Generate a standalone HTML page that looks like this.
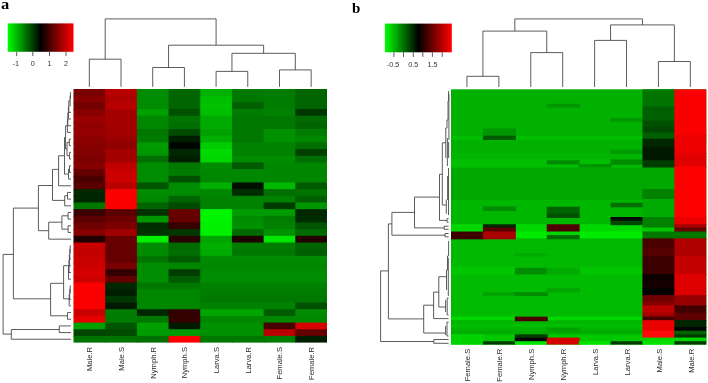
<!DOCTYPE html>
<html><head><meta charset="utf-8"><title>Heatmaps</title>
<style>
html,body{margin:0;padding:0;background:#fff;}
svg{display:block;}
.s{font-family:"Liberation Sans",sans-serif;font-size:7.2px;fill:#333;}
.l{font-family:"Liberation Sans",sans-serif;font-size:7.6px;fill:#2a2a2a;}
</style></head><body>
<svg width="708" height="383" viewBox="0 0 708 383">
<defs><linearGradient id="lg" x1="0" y1="0" x2="1" y2="0">
<stop offset="0" stop-color="rgb(0,255,0)"/><stop offset="0.5" stop-color="rgb(0,0,0)"/><stop offset="1" stop-color="rgb(255,0,0)"/>
</linearGradient></defs>
<rect width="708" height="383" fill="#fff"/>
<g id="heatA">
<rect x="73.50" y="89.00" width="32.69" height="7.67" fill="rgb(120,0,0)"/>
<rect x="105.19" y="89.00" width="32.69" height="7.67" fill="rgb(185,0,0)"/>
<rect x="136.88" y="89.00" width="32.69" height="7.67" fill="rgb(0,140,0)"/>
<rect x="168.56" y="89.00" width="32.69" height="7.67" fill="rgb(0,100,0)"/>
<rect x="200.25" y="89.00" width="32.69" height="7.67" fill="rgb(0,175,0)"/>
<rect x="231.94" y="89.00" width="32.69" height="7.67" fill="rgb(0,120,0)"/>
<rect x="263.62" y="89.00" width="32.69" height="7.67" fill="rgb(0,125,0)"/>
<rect x="295.31" y="89.00" width="31.69" height="7.67" fill="rgb(0,100,0)"/>
<rect x="73.50" y="95.67" width="32.69" height="7.67" fill="rgb(135,0,0)"/>
<rect x="105.19" y="95.67" width="32.69" height="7.67" fill="rgb(175,0,0)"/>
<rect x="136.88" y="95.67" width="32.69" height="7.67" fill="rgb(0,140,0)"/>
<rect x="168.56" y="95.67" width="32.69" height="7.67" fill="rgb(0,100,0)"/>
<rect x="200.25" y="95.67" width="32.69" height="7.67" fill="rgb(0,190,0)"/>
<rect x="231.94" y="95.67" width="32.69" height="7.67" fill="rgb(0,120,0)"/>
<rect x="263.62" y="95.67" width="32.69" height="7.67" fill="rgb(0,125,0)"/>
<rect x="295.31" y="95.67" width="31.69" height="7.67" fill="rgb(0,100,0)"/>
<rect x="73.50" y="102.35" width="32.69" height="7.67" fill="rgb(115,0,0)"/>
<rect x="105.19" y="102.35" width="32.69" height="7.67" fill="rgb(185,0,0)"/>
<rect x="136.88" y="102.35" width="32.69" height="7.67" fill="rgb(0,140,0)"/>
<rect x="168.56" y="102.35" width="32.69" height="7.67" fill="rgb(0,100,0)"/>
<rect x="200.25" y="102.35" width="32.69" height="7.67" fill="rgb(0,195,0)"/>
<rect x="231.94" y="102.35" width="32.69" height="7.67" fill="rgb(0,95,0)"/>
<rect x="263.62" y="102.35" width="32.69" height="7.67" fill="rgb(0,125,0)"/>
<rect x="295.31" y="102.35" width="31.69" height="7.67" fill="rgb(0,100,0)"/>
<rect x="73.50" y="109.02" width="32.69" height="7.67" fill="rgb(135,0,0)"/>
<rect x="105.19" y="109.02" width="32.69" height="7.67" fill="rgb(165,0,0)"/>
<rect x="136.88" y="109.02" width="32.69" height="7.67" fill="rgb(0,160,0)"/>
<rect x="168.56" y="109.02" width="32.69" height="7.67" fill="rgb(0,80,0)"/>
<rect x="200.25" y="109.02" width="32.69" height="7.67" fill="rgb(0,190,0)"/>
<rect x="231.94" y="109.02" width="32.69" height="7.67" fill="rgb(0,125,0)"/>
<rect x="263.62" y="109.02" width="32.69" height="7.67" fill="rgb(0,130,0)"/>
<rect x="295.31" y="109.02" width="31.69" height="7.67" fill="rgb(0,55,0)"/>
<rect x="73.50" y="115.69" width="32.69" height="7.67" fill="rgb(155,0,0)"/>
<rect x="105.19" y="115.69" width="32.69" height="7.67" fill="rgb(165,0,0)"/>
<rect x="136.88" y="115.69" width="32.69" height="7.67" fill="rgb(0,135,0)"/>
<rect x="168.56" y="115.69" width="32.69" height="7.67" fill="rgb(0,115,0)"/>
<rect x="200.25" y="115.69" width="32.69" height="7.67" fill="rgb(0,170,0)"/>
<rect x="231.94" y="115.69" width="32.69" height="7.67" fill="rgb(0,120,0)"/>
<rect x="263.62" y="115.69" width="32.69" height="7.67" fill="rgb(0,120,0)"/>
<rect x="295.31" y="115.69" width="31.69" height="7.67" fill="rgb(0,105,0)"/>
<rect x="73.50" y="122.37" width="32.69" height="7.67" fill="rgb(145,0,0)"/>
<rect x="105.19" y="122.37" width="32.69" height="7.67" fill="rgb(165,0,0)"/>
<rect x="136.88" y="122.37" width="32.69" height="7.67" fill="rgb(0,135,0)"/>
<rect x="168.56" y="122.37" width="32.69" height="7.67" fill="rgb(0,110,0)"/>
<rect x="200.25" y="122.37" width="32.69" height="7.67" fill="rgb(0,170,0)"/>
<rect x="231.94" y="122.37" width="32.69" height="7.67" fill="rgb(0,120,0)"/>
<rect x="263.62" y="122.37" width="32.69" height="7.67" fill="rgb(0,120,0)"/>
<rect x="295.31" y="122.37" width="31.69" height="7.67" fill="rgb(0,100,0)"/>
<rect x="73.50" y="129.04" width="32.69" height="7.67" fill="rgb(150,0,0)"/>
<rect x="105.19" y="129.04" width="32.69" height="7.67" fill="rgb(160,0,0)"/>
<rect x="136.88" y="129.04" width="32.69" height="7.67" fill="rgb(0,120,0)"/>
<rect x="168.56" y="129.04" width="32.69" height="7.67" fill="rgb(0,75,0)"/>
<rect x="200.25" y="129.04" width="32.69" height="7.67" fill="rgb(0,160,0)"/>
<rect x="231.94" y="129.04" width="32.69" height="7.67" fill="rgb(0,120,0)"/>
<rect x="263.62" y="129.04" width="32.69" height="7.67" fill="rgb(0,145,0)"/>
<rect x="295.31" y="129.04" width="31.69" height="7.67" fill="rgb(0,125,0)"/>
<rect x="73.50" y="135.72" width="32.69" height="7.67" fill="rgb(140,0,0)"/>
<rect x="105.19" y="135.72" width="32.69" height="7.67" fill="rgb(155,0,0)"/>
<rect x="136.88" y="135.72" width="32.69" height="7.67" fill="rgb(0,125,0)"/>
<rect x="168.56" y="135.72" width="32.69" height="7.67" fill="rgb(0,30,0)"/>
<rect x="200.25" y="135.72" width="32.69" height="7.67" fill="rgb(0,175,0)"/>
<rect x="231.94" y="135.72" width="32.69" height="7.67" fill="rgb(0,120,0)"/>
<rect x="263.62" y="135.72" width="32.69" height="7.67" fill="rgb(0,145,0)"/>
<rect x="295.31" y="135.72" width="31.69" height="7.67" fill="rgb(0,135,0)"/>
<rect x="73.50" y="142.39" width="32.69" height="7.67" fill="rgb(135,0,0)"/>
<rect x="105.19" y="142.39" width="32.69" height="7.67" fill="rgb(145,0,0)"/>
<rect x="136.88" y="142.39" width="32.69" height="7.67" fill="rgb(0,155,0)"/>
<rect x="168.56" y="142.39" width="32.69" height="7.67" fill="rgb(0,5,0)"/>
<rect x="200.25" y="142.39" width="32.69" height="7.67" fill="rgb(0,205,0)"/>
<rect x="231.94" y="142.39" width="32.69" height="7.67" fill="rgb(0,130,0)"/>
<rect x="263.62" y="142.39" width="32.69" height="7.67" fill="rgb(0,130,0)"/>
<rect x="295.31" y="142.39" width="31.69" height="7.67" fill="rgb(0,110,0)"/>
<rect x="73.50" y="149.06" width="32.69" height="7.67" fill="rgb(130,0,0)"/>
<rect x="105.19" y="149.06" width="32.69" height="7.67" fill="rgb(165,0,0)"/>
<rect x="136.88" y="149.06" width="32.69" height="7.67" fill="rgb(0,150,0)"/>
<rect x="168.56" y="149.06" width="32.69" height="7.67" fill="rgb(0,40,0)"/>
<rect x="200.25" y="149.06" width="32.69" height="7.67" fill="rgb(0,218,0)"/>
<rect x="231.94" y="149.06" width="32.69" height="7.67" fill="rgb(0,130,0)"/>
<rect x="263.62" y="149.06" width="32.69" height="7.67" fill="rgb(0,130,0)"/>
<rect x="295.31" y="149.06" width="31.69" height="7.67" fill="rgb(0,65,0)"/>
<rect x="73.50" y="155.74" width="32.69" height="7.67" fill="rgb(125,0,0)"/>
<rect x="105.19" y="155.74" width="32.69" height="7.67" fill="rgb(165,0,0)"/>
<rect x="136.88" y="155.74" width="32.69" height="7.67" fill="rgb(0,110,0)"/>
<rect x="168.56" y="155.74" width="32.69" height="7.67" fill="rgb(0,30,0)"/>
<rect x="200.25" y="155.74" width="32.69" height="7.67" fill="rgb(0,215,0)"/>
<rect x="231.94" y="155.74" width="32.69" height="7.67" fill="rgb(0,140,0)"/>
<rect x="263.62" y="155.74" width="32.69" height="7.67" fill="rgb(0,140,0)"/>
<rect x="295.31" y="155.74" width="31.69" height="7.67" fill="rgb(0,110,0)"/>
<rect x="73.50" y="162.41" width="32.69" height="7.67" fill="rgb(135,0,0)"/>
<rect x="105.19" y="162.41" width="32.69" height="7.67" fill="rgb(190,0,0)"/>
<rect x="136.88" y="162.41" width="32.69" height="7.67" fill="rgb(0,140,0)"/>
<rect x="168.56" y="162.41" width="32.69" height="7.67" fill="rgb(0,120,0)"/>
<rect x="200.25" y="162.41" width="32.69" height="7.67" fill="rgb(0,140,0)"/>
<rect x="231.94" y="162.41" width="32.69" height="7.67" fill="rgb(0,90,0)"/>
<rect x="263.62" y="162.41" width="32.69" height="7.67" fill="rgb(0,135,0)"/>
<rect x="295.31" y="162.41" width="31.69" height="7.67" fill="rgb(0,135,0)"/>
<rect x="73.50" y="169.08" width="32.69" height="7.67" fill="rgb(100,0,0)"/>
<rect x="105.19" y="169.08" width="32.69" height="7.67" fill="rgb(205,0,0)"/>
<rect x="136.88" y="169.08" width="32.69" height="7.67" fill="rgb(0,140,0)"/>
<rect x="168.56" y="169.08" width="32.69" height="7.67" fill="rgb(0,125,0)"/>
<rect x="200.25" y="169.08" width="32.69" height="7.67" fill="rgb(0,135,0)"/>
<rect x="231.94" y="169.08" width="32.69" height="7.67" fill="rgb(0,135,0)"/>
<rect x="263.62" y="169.08" width="32.69" height="7.67" fill="rgb(0,135,0)"/>
<rect x="295.31" y="169.08" width="31.69" height="7.67" fill="rgb(0,135,0)"/>
<rect x="73.50" y="175.76" width="32.69" height="7.67" fill="rgb(75,0,0)"/>
<rect x="105.19" y="175.76" width="32.69" height="7.67" fill="rgb(205,0,0)"/>
<rect x="136.88" y="175.76" width="32.69" height="7.67" fill="rgb(0,140,0)"/>
<rect x="168.56" y="175.76" width="32.69" height="7.67" fill="rgb(0,80,0)"/>
<rect x="200.25" y="175.76" width="32.69" height="7.67" fill="rgb(0,135,0)"/>
<rect x="231.94" y="175.76" width="32.69" height="7.67" fill="rgb(0,135,0)"/>
<rect x="263.62" y="175.76" width="32.69" height="7.67" fill="rgb(0,135,0)"/>
<rect x="295.31" y="175.76" width="31.69" height="7.67" fill="rgb(0,135,0)"/>
<rect x="73.50" y="182.43" width="32.69" height="7.67" fill="rgb(90,0,0)"/>
<rect x="105.19" y="182.43" width="32.69" height="7.67" fill="rgb(185,0,0)"/>
<rect x="136.88" y="182.43" width="32.69" height="7.67" fill="rgb(0,85,0)"/>
<rect x="168.56" y="182.43" width="32.69" height="7.67" fill="rgb(0,140,0)"/>
<rect x="200.25" y="182.43" width="32.69" height="7.67" fill="rgb(0,175,0)"/>
<rect x="231.94" y="182.43" width="32.69" height="7.67" fill="rgb(0,15,0)"/>
<rect x="263.62" y="182.43" width="32.69" height="7.67" fill="rgb(0,185,0)"/>
<rect x="295.31" y="182.43" width="31.69" height="7.67" fill="rgb(0,90,0)"/>
<rect x="73.50" y="189.11" width="32.69" height="7.67" fill="rgb(0,40,0)"/>
<rect x="105.19" y="189.11" width="32.69" height="7.67" fill="rgb(250,0,0)"/>
<rect x="136.88" y="189.11" width="32.69" height="7.67" fill="rgb(0,140,0)"/>
<rect x="168.56" y="189.11" width="32.69" height="7.67" fill="rgb(0,140,0)"/>
<rect x="200.25" y="189.11" width="32.69" height="7.67" fill="rgb(0,135,0)"/>
<rect x="231.94" y="189.11" width="32.69" height="7.67" fill="rgb(0,45,0)"/>
<rect x="263.62" y="189.11" width="32.69" height="7.67" fill="rgb(0,110,0)"/>
<rect x="295.31" y="189.11" width="31.69" height="7.67" fill="rgb(0,115,0)"/>
<rect x="73.50" y="195.78" width="32.69" height="7.67" fill="rgb(0,40,0)"/>
<rect x="105.19" y="195.78" width="32.69" height="7.67" fill="rgb(250,0,0)"/>
<rect x="136.88" y="195.78" width="32.69" height="7.67" fill="rgb(0,135,0)"/>
<rect x="168.56" y="195.78" width="32.69" height="7.67" fill="rgb(0,100,0)"/>
<rect x="200.25" y="195.78" width="32.69" height="7.67" fill="rgb(0,130,0)"/>
<rect x="231.94" y="195.78" width="32.69" height="7.67" fill="rgb(0,130,0)"/>
<rect x="263.62" y="195.78" width="32.69" height="7.67" fill="rgb(0,130,0)"/>
<rect x="295.31" y="195.78" width="31.69" height="7.67" fill="rgb(0,95,0)"/>
<rect x="73.50" y="202.45" width="32.69" height="7.67" fill="rgb(0,120,0)"/>
<rect x="105.19" y="202.45" width="32.69" height="7.67" fill="rgb(250,0,0)"/>
<rect x="136.88" y="202.45" width="32.69" height="7.67" fill="rgb(0,100,0)"/>
<rect x="168.56" y="202.45" width="32.69" height="7.67" fill="rgb(0,75,0)"/>
<rect x="200.25" y="202.45" width="32.69" height="7.67" fill="rgb(0,130,0)"/>
<rect x="231.94" y="202.45" width="32.69" height="7.67" fill="rgb(0,130,0)"/>
<rect x="263.62" y="202.45" width="32.69" height="7.67" fill="rgb(0,60,0)"/>
<rect x="295.31" y="202.45" width="31.69" height="7.67" fill="rgb(0,150,0)"/>
<rect x="73.50" y="209.13" width="32.69" height="7.67" fill="rgb(60,0,0)"/>
<rect x="105.19" y="209.13" width="32.69" height="7.67" fill="rgb(90,0,0)"/>
<rect x="136.88" y="209.13" width="32.69" height="7.67" fill="rgb(0,50,0)"/>
<rect x="168.56" y="209.13" width="32.69" height="7.67" fill="rgb(105,0,0)"/>
<rect x="200.25" y="209.13" width="32.69" height="7.67" fill="rgb(0,245,0)"/>
<rect x="231.94" y="209.13" width="32.69" height="7.67" fill="rgb(0,155,0)"/>
<rect x="263.62" y="209.13" width="32.69" height="7.67" fill="rgb(0,155,0)"/>
<rect x="295.31" y="209.13" width="31.69" height="7.67" fill="rgb(0,40,0)"/>
<rect x="73.50" y="215.80" width="32.69" height="7.67" fill="rgb(90,0,0)"/>
<rect x="105.19" y="215.80" width="32.69" height="7.67" fill="rgb(110,0,0)"/>
<rect x="136.88" y="215.80" width="32.69" height="7.67" fill="rgb(0,150,0)"/>
<rect x="168.56" y="215.80" width="32.69" height="7.67" fill="rgb(100,0,0)"/>
<rect x="200.25" y="215.80" width="32.69" height="7.67" fill="rgb(0,245,0)"/>
<rect x="231.94" y="215.80" width="32.69" height="7.67" fill="rgb(0,140,0)"/>
<rect x="263.62" y="215.80" width="32.69" height="7.67" fill="rgb(0,125,0)"/>
<rect x="295.31" y="215.80" width="31.69" height="7.67" fill="rgb(0,45,0)"/>
<rect x="73.50" y="222.47" width="32.69" height="7.67" fill="rgb(110,0,0)"/>
<rect x="105.19" y="222.47" width="32.69" height="7.67" fill="rgb(125,0,0)"/>
<rect x="136.88" y="222.47" width="32.69" height="7.67" fill="rgb(0,45,0)"/>
<rect x="168.56" y="222.47" width="32.69" height="7.67" fill="rgb(55,0,0)"/>
<rect x="200.25" y="222.47" width="32.69" height="7.67" fill="rgb(0,240,0)"/>
<rect x="231.94" y="222.47" width="32.69" height="7.67" fill="rgb(0,145,0)"/>
<rect x="263.62" y="222.47" width="32.69" height="7.67" fill="rgb(0,130,0)"/>
<rect x="295.31" y="222.47" width="31.69" height="7.67" fill="rgb(0,85,0)"/>
<rect x="73.50" y="229.15" width="32.69" height="7.67" fill="rgb(135,0,0)"/>
<rect x="105.19" y="229.15" width="32.69" height="7.67" fill="rgb(160,0,0)"/>
<rect x="136.88" y="229.15" width="32.69" height="7.67" fill="rgb(0,50,0)"/>
<rect x="168.56" y="229.15" width="32.69" height="7.67" fill="rgb(0,55,0)"/>
<rect x="200.25" y="229.15" width="32.69" height="7.67" fill="rgb(0,240,0)"/>
<rect x="231.94" y="229.15" width="32.69" height="7.67" fill="rgb(0,105,0)"/>
<rect x="263.62" y="229.15" width="32.69" height="7.67" fill="rgb(0,145,0)"/>
<rect x="295.31" y="229.15" width="31.69" height="7.67" fill="rgb(0,105,0)"/>
<rect x="73.50" y="235.82" width="32.69" height="7.67" fill="rgb(30,0,0)"/>
<rect x="105.19" y="235.82" width="32.69" height="7.67" fill="rgb(105,0,0)"/>
<rect x="136.88" y="235.82" width="32.69" height="7.67" fill="rgb(0,240,0)"/>
<rect x="168.56" y="235.82" width="32.69" height="7.67" fill="rgb(40,0,0)"/>
<rect x="200.25" y="235.82" width="32.69" height="7.67" fill="rgb(0,165,0)"/>
<rect x="231.94" y="235.82" width="32.69" height="7.67" fill="rgb(30,0,0)"/>
<rect x="263.62" y="235.82" width="32.69" height="7.67" fill="rgb(0,230,0)"/>
<rect x="295.31" y="235.82" width="31.69" height="7.67" fill="rgb(35,0,0)"/>
<rect x="73.50" y="242.49" width="32.69" height="7.67" fill="rgb(200,0,0)"/>
<rect x="105.19" y="242.49" width="32.69" height="7.67" fill="rgb(100,0,0)"/>
<rect x="136.88" y="242.49" width="32.69" height="7.67" fill="rgb(0,140,0)"/>
<rect x="168.56" y="242.49" width="32.69" height="7.67" fill="rgb(0,105,0)"/>
<rect x="200.25" y="242.49" width="32.69" height="7.67" fill="rgb(0,175,0)"/>
<rect x="231.94" y="242.49" width="32.69" height="7.67" fill="rgb(0,125,0)"/>
<rect x="263.62" y="242.49" width="32.69" height="7.67" fill="rgb(0,125,0)"/>
<rect x="295.31" y="242.49" width="31.69" height="7.67" fill="rgb(0,100,0)"/>
<rect x="73.50" y="249.17" width="32.69" height="7.67" fill="rgb(195,0,0)"/>
<rect x="105.19" y="249.17" width="32.69" height="7.67" fill="rgb(100,0,0)"/>
<rect x="136.88" y="249.17" width="32.69" height="7.67" fill="rgb(0,140,0)"/>
<rect x="168.56" y="249.17" width="32.69" height="7.67" fill="rgb(0,110,0)"/>
<rect x="200.25" y="249.17" width="32.69" height="7.67" fill="rgb(0,170,0)"/>
<rect x="231.94" y="249.17" width="32.69" height="7.67" fill="rgb(0,120,0)"/>
<rect x="263.62" y="249.17" width="32.69" height="7.67" fill="rgb(0,120,0)"/>
<rect x="295.31" y="249.17" width="31.69" height="7.67" fill="rgb(0,95,0)"/>
<rect x="73.50" y="255.84" width="32.69" height="7.67" fill="rgb(200,0,0)"/>
<rect x="105.19" y="255.84" width="32.69" height="7.67" fill="rgb(100,0,0)"/>
<rect x="136.88" y="255.84" width="32.69" height="7.67" fill="rgb(0,115,0)"/>
<rect x="168.56" y="255.84" width="32.69" height="7.67" fill="rgb(0,90,0)"/>
<rect x="200.25" y="255.84" width="32.69" height="7.67" fill="rgb(0,140,0)"/>
<rect x="231.94" y="255.84" width="32.69" height="7.67" fill="rgb(0,140,0)"/>
<rect x="263.62" y="255.84" width="32.69" height="7.67" fill="rgb(0,140,0)"/>
<rect x="295.31" y="255.84" width="31.69" height="7.67" fill="rgb(0,140,0)"/>
<rect x="73.50" y="262.52" width="32.69" height="7.67" fill="rgb(205,0,0)"/>
<rect x="105.19" y="262.52" width="32.69" height="7.67" fill="rgb(120,0,0)"/>
<rect x="136.88" y="262.52" width="32.69" height="7.67" fill="rgb(0,140,0)"/>
<rect x="168.56" y="262.52" width="32.69" height="7.67" fill="rgb(0,135,0)"/>
<rect x="200.25" y="262.52" width="32.69" height="7.67" fill="rgb(0,135,0)"/>
<rect x="231.94" y="262.52" width="32.69" height="7.67" fill="rgb(0,135,0)"/>
<rect x="263.62" y="262.52" width="32.69" height="7.67" fill="rgb(0,135,0)"/>
<rect x="295.31" y="262.52" width="31.69" height="7.67" fill="rgb(0,135,0)"/>
<rect x="73.50" y="269.19" width="32.69" height="7.67" fill="rgb(215,0,0)"/>
<rect x="105.19" y="269.19" width="32.69" height="7.67" fill="rgb(50,0,0)"/>
<rect x="136.88" y="269.19" width="32.69" height="7.67" fill="rgb(0,140,0)"/>
<rect x="168.56" y="269.19" width="32.69" height="7.67" fill="rgb(0,60,0)"/>
<rect x="200.25" y="269.19" width="32.69" height="7.67" fill="rgb(0,140,0)"/>
<rect x="231.94" y="269.19" width="32.69" height="7.67" fill="rgb(0,140,0)"/>
<rect x="263.62" y="269.19" width="32.69" height="7.67" fill="rgb(0,140,0)"/>
<rect x="295.31" y="269.19" width="31.69" height="7.67" fill="rgb(0,140,0)"/>
<rect x="73.50" y="275.86" width="32.69" height="7.67" fill="rgb(205,0,0)"/>
<rect x="105.19" y="275.86" width="32.69" height="7.67" fill="rgb(100,0,0)"/>
<rect x="136.88" y="275.86" width="32.69" height="7.67" fill="rgb(0,140,0)"/>
<rect x="168.56" y="275.86" width="32.69" height="7.67" fill="rgb(0,90,0)"/>
<rect x="200.25" y="275.86" width="32.69" height="7.67" fill="rgb(0,140,0)"/>
<rect x="231.94" y="275.86" width="32.69" height="7.67" fill="rgb(0,140,0)"/>
<rect x="263.62" y="275.86" width="32.69" height="7.67" fill="rgb(0,140,0)"/>
<rect x="295.31" y="275.86" width="31.69" height="7.67" fill="rgb(0,140,0)"/>
<rect x="73.50" y="282.54" width="32.69" height="7.67" fill="rgb(250,0,0)"/>
<rect x="105.19" y="282.54" width="32.69" height="7.67" fill="rgb(0,40,0)"/>
<rect x="136.88" y="282.54" width="32.69" height="7.67" fill="rgb(0,120,0)"/>
<rect x="168.56" y="282.54" width="32.69" height="7.67" fill="rgb(0,120,0)"/>
<rect x="200.25" y="282.54" width="32.69" height="7.67" fill="rgb(0,130,0)"/>
<rect x="231.94" y="282.54" width="32.69" height="7.67" fill="rgb(0,130,0)"/>
<rect x="263.62" y="282.54" width="32.69" height="7.67" fill="rgb(0,130,0)"/>
<rect x="295.31" y="282.54" width="31.69" height="7.67" fill="rgb(0,130,0)"/>
<rect x="73.50" y="289.21" width="32.69" height="7.67" fill="rgb(250,0,0)"/>
<rect x="105.19" y="289.21" width="32.69" height="7.67" fill="rgb(0,30,0)"/>
<rect x="136.88" y="289.21" width="32.69" height="7.67" fill="rgb(0,135,0)"/>
<rect x="168.56" y="289.21" width="32.69" height="7.67" fill="rgb(0,135,0)"/>
<rect x="200.25" y="289.21" width="32.69" height="7.67" fill="rgb(0,125,0)"/>
<rect x="231.94" y="289.21" width="32.69" height="7.67" fill="rgb(0,125,0)"/>
<rect x="263.62" y="289.21" width="32.69" height="7.67" fill="rgb(0,125,0)"/>
<rect x="295.31" y="289.21" width="31.69" height="7.67" fill="rgb(0,125,0)"/>
<rect x="73.50" y="295.88" width="32.69" height="7.67" fill="rgb(250,0,0)"/>
<rect x="105.19" y="295.88" width="32.69" height="7.67" fill="rgb(0,55,0)"/>
<rect x="136.88" y="295.88" width="32.69" height="7.67" fill="rgb(0,135,0)"/>
<rect x="168.56" y="295.88" width="32.69" height="7.67" fill="rgb(0,135,0)"/>
<rect x="200.25" y="295.88" width="32.69" height="7.67" fill="rgb(0,120,0)"/>
<rect x="231.94" y="295.88" width="32.69" height="7.67" fill="rgb(0,120,0)"/>
<rect x="263.62" y="295.88" width="32.69" height="7.67" fill="rgb(0,120,0)"/>
<rect x="295.31" y="295.88" width="31.69" height="7.67" fill="rgb(0,120,0)"/>
<rect x="73.50" y="302.56" width="32.69" height="7.67" fill="rgb(250,0,0)"/>
<rect x="105.19" y="302.56" width="32.69" height="7.67" fill="rgb(0,25,0)"/>
<rect x="136.88" y="302.56" width="32.69" height="7.67" fill="rgb(0,135,0)"/>
<rect x="168.56" y="302.56" width="32.69" height="7.67" fill="rgb(0,135,0)"/>
<rect x="200.25" y="302.56" width="32.69" height="7.67" fill="rgb(0,130,0)"/>
<rect x="231.94" y="302.56" width="32.69" height="7.67" fill="rgb(0,130,0)"/>
<rect x="263.62" y="302.56" width="32.69" height="7.67" fill="rgb(0,130,0)"/>
<rect x="295.31" y="302.56" width="31.69" height="7.67" fill="rgb(0,80,0)"/>
<rect x="73.50" y="309.23" width="32.69" height="7.67" fill="rgb(200,0,0)"/>
<rect x="105.19" y="309.23" width="32.69" height="7.67" fill="rgb(0,125,0)"/>
<rect x="136.88" y="309.23" width="32.69" height="7.67" fill="rgb(0,40,0)"/>
<rect x="168.56" y="309.23" width="32.69" height="7.67" fill="rgb(50,0,0)"/>
<rect x="200.25" y="309.23" width="32.69" height="7.67" fill="rgb(0,165,0)"/>
<rect x="231.94" y="309.23" width="32.69" height="7.67" fill="rgb(0,165,0)"/>
<rect x="263.62" y="309.23" width="32.69" height="7.67" fill="rgb(0,90,0)"/>
<rect x="295.31" y="309.23" width="31.69" height="7.67" fill="rgb(0,140,0)"/>
<rect x="73.50" y="315.91" width="32.69" height="7.67" fill="rgb(230,0,0)"/>
<rect x="105.19" y="315.91" width="32.69" height="7.67" fill="rgb(0,125,0)"/>
<rect x="136.88" y="315.91" width="32.69" height="7.67" fill="rgb(0,120,0)"/>
<rect x="168.56" y="315.91" width="32.69" height="7.67" fill="rgb(55,0,0)"/>
<rect x="200.25" y="315.91" width="32.69" height="7.67" fill="rgb(0,135,0)"/>
<rect x="231.94" y="315.91" width="32.69" height="7.67" fill="rgb(0,135,0)"/>
<rect x="263.62" y="315.91" width="32.69" height="7.67" fill="rgb(0,135,0)"/>
<rect x="295.31" y="315.91" width="31.69" height="7.67" fill="rgb(0,135,0)"/>
<rect x="73.50" y="322.58" width="32.69" height="7.67" fill="rgb(0,160,0)"/>
<rect x="105.19" y="322.58" width="32.69" height="7.67" fill="rgb(0,85,0)"/>
<rect x="136.88" y="322.58" width="32.69" height="7.67" fill="rgb(0,160,0)"/>
<rect x="168.56" y="322.58" width="32.69" height="7.67" fill="rgb(0,25,0)"/>
<rect x="200.25" y="322.58" width="32.69" height="7.67" fill="rgb(0,145,0)"/>
<rect x="231.94" y="322.58" width="32.69" height="7.67" fill="rgb(0,145,0)"/>
<rect x="263.62" y="322.58" width="32.69" height="7.67" fill="rgb(70,0,0)"/>
<rect x="295.31" y="322.58" width="31.69" height="7.67" fill="rgb(215,0,0)"/>
<rect x="73.50" y="329.25" width="32.69" height="7.67" fill="rgb(0,70,0)"/>
<rect x="105.19" y="329.25" width="32.69" height="7.67" fill="rgb(0,75,0)"/>
<rect x="136.88" y="329.25" width="32.69" height="7.67" fill="rgb(0,155,0)"/>
<rect x="168.56" y="329.25" width="32.69" height="7.67" fill="rgb(0,155,0)"/>
<rect x="200.25" y="329.25" width="32.69" height="7.67" fill="rgb(0,145,0)"/>
<rect x="231.94" y="329.25" width="32.69" height="7.67" fill="rgb(0,145,0)"/>
<rect x="263.62" y="329.25" width="32.69" height="7.67" fill="rgb(185,0,0)"/>
<rect x="295.31" y="329.25" width="31.69" height="7.67" fill="rgb(100,0,0)"/>
<rect x="73.50" y="335.93" width="32.69" height="6.67" fill="rgb(0,115,0)"/>
<rect x="105.19" y="335.93" width="32.69" height="6.67" fill="rgb(0,115,0)"/>
<rect x="136.88" y="335.93" width="32.69" height="6.67" fill="rgb(0,110,0)"/>
<rect x="168.56" y="335.93" width="32.69" height="6.67" fill="rgb(250,0,0)"/>
<rect x="200.25" y="335.93" width="32.69" height="6.67" fill="rgb(0,120,0)"/>
<rect x="231.94" y="335.93" width="32.69" height="6.67" fill="rgb(0,120,0)"/>
<rect x="263.62" y="335.93" width="32.69" height="6.67" fill="rgb(0,125,0)"/>
<rect x="295.31" y="335.93" width="31.69" height="6.67" fill="rgb(0,30,0)"/>
</g>
<g id="heatB">
<rect x="451.00" y="89.30" width="255.30" height="47.70" fill="rgb(0,177,0)"/>
<rect x="451.00" y="136.00" width="255.30" height="4.50" fill="rgb(0,190,0)"/>
<rect x="451.00" y="139.50" width="255.30" height="14.50" fill="rgb(0,177,0)"/>
<rect x="451.00" y="153.00" width="255.30" height="7.30" fill="rgb(0,180,0)"/>
<rect x="451.00" y="159.30" width="255.30" height="9.20" fill="rgb(0,190,0)"/>
<rect x="451.00" y="167.50" width="255.30" height="33.50" fill="rgb(0,168,0)"/>
<rect x="451.00" y="200.00" width="255.30" height="25.20" fill="rgb(0,183,0)"/>
<rect x="451.00" y="224.20" width="255.30" height="8.30" fill="rgb(0,215,0)"/>
<rect x="451.00" y="231.50" width="255.30" height="7.80" fill="rgb(0,235,0)"/>
<rect x="451.00" y="238.30" width="255.30" height="29.70" fill="rgb(0,185,0)"/>
<rect x="451.00" y="267.00" width="255.30" height="8.00" fill="rgb(0,198,0)"/>
<rect x="451.00" y="274.00" width="255.30" height="43.60" fill="rgb(0,187,0)"/>
<rect x="451.00" y="316.60" width="255.30" height="4.60" fill="rgb(0,215,0)"/>
<rect x="451.00" y="320.20" width="255.30" height="4.50" fill="rgb(0,182,0)"/>
<rect x="451.00" y="323.70" width="255.30" height="4.30" fill="rgb(0,190,0)"/>
<rect x="451.00" y="327.00" width="255.30" height="4.70" fill="rgb(0,180,0)"/>
<rect x="451.00" y="330.70" width="255.30" height="4.60" fill="rgb(0,172,0)"/>
<rect x="451.00" y="334.30" width="255.30" height="7.90" fill="rgb(0,200,0)"/>
<rect x="451.00" y="341.20" width="255.30" height="3.40" fill="rgb(0,225,0)"/>
<rect x="451.00" y="231.50" width="32.91" height="7.80" fill="rgb(60,0,0)"/>
<rect x="451.00" y="334.30" width="32.91" height="10.30" fill="rgb(0,210,0)"/>
<rect x="482.91" y="128.40" width="32.91" height="8.20" fill="rgb(0,150,0)"/>
<rect x="482.91" y="135.60" width="32.91" height="4.30" fill="rgb(0,90,0)"/>
<rect x="482.91" y="206.30" width="32.91" height="4.70" fill="rgb(0,140,0)"/>
<rect x="482.91" y="224.20" width="32.91" height="4.30" fill="rgb(0,40,0)"/>
<rect x="482.91" y="227.50" width="32.91" height="5.00" fill="rgb(90,0,0)"/>
<rect x="482.91" y="231.50" width="32.91" height="7.80" fill="rgb(170,0,0)"/>
<rect x="482.91" y="292.20" width="32.91" height="3.40" fill="rgb(0,160,0)"/>
<rect x="482.91" y="341.20" width="32.91" height="3.40" fill="rgb(0,60,0)"/>
<rect x="514.83" y="253.00" width="32.91" height="3.50" fill="rgb(0,170,0)"/>
<rect x="514.83" y="267.60" width="32.91" height="6.80" fill="rgb(0,140,0)"/>
<rect x="514.83" y="292.20" width="32.91" height="3.80" fill="rgb(0,140,0)"/>
<rect x="514.83" y="316.60" width="32.91" height="4.60" fill="rgb(75,0,0)"/>
<rect x="514.83" y="334.30" width="32.91" height="4.30" fill="rgb(0,60,0)"/>
<rect x="514.83" y="337.60" width="32.91" height="4.60" fill="rgb(0,0,0)"/>
<rect x="514.83" y="341.20" width="32.91" height="3.40" fill="rgb(0,230,0)"/>
<rect x="546.74" y="103.80" width="32.91" height="3.90" fill="rgb(0,150,0)"/>
<rect x="546.74" y="160.20" width="32.91" height="4.30" fill="rgb(0,140,0)"/>
<rect x="546.74" y="206.70" width="32.91" height="7.90" fill="rgb(0,100,0)"/>
<rect x="546.74" y="213.60" width="32.91" height="4.40" fill="rgb(0,80,0)"/>
<rect x="546.74" y="224.20" width="32.91" height="8.30" fill="rgb(80,0,0)"/>
<rect x="546.74" y="231.50" width="32.91" height="4.50" fill="rgb(0,215,0)"/>
<rect x="546.74" y="235.00" width="32.91" height="4.30" fill="rgb(0,110,0)"/>
<rect x="546.74" y="267.60" width="32.91" height="6.80" fill="rgb(0,170,0)"/>
<rect x="546.74" y="288.20" width="32.91" height="4.30" fill="rgb(0,165,0)"/>
<rect x="546.74" y="327.70" width="32.91" height="4.00" fill="rgb(0,160,0)"/>
<rect x="546.74" y="337.60" width="32.91" height="7.00" fill="rgb(215,0,0)"/>
<rect x="578.65" y="164.00" width="32.91" height="3.50" fill="rgb(0,150,0)"/>
<rect x="578.65" y="341.20" width="32.91" height="3.40" fill="rgb(0,225,0)"/>
<rect x="610.56" y="118.00" width="32.91" height="3.60" fill="rgb(0,150,0)"/>
<rect x="610.56" y="149.60" width="32.91" height="4.40" fill="rgb(0,155,0)"/>
<rect x="610.56" y="159.30" width="32.91" height="5.50" fill="rgb(0,140,0)"/>
<rect x="610.56" y="202.70" width="32.91" height="4.60" fill="rgb(0,110,0)"/>
<rect x="610.56" y="217.00" width="32.91" height="4.60" fill="rgb(0,10,0)"/>
<rect x="610.56" y="220.60" width="32.91" height="4.60" fill="rgb(0,70,0)"/>
<rect x="610.56" y="341.20" width="32.91" height="3.40" fill="rgb(0,60,0)"/>
<rect x="642.47" y="89.30" width="32.91" height="4.30" fill="rgb(0,120,0)"/>
<rect x="642.47" y="92.60" width="32.91" height="15.10" fill="rgb(0,115,0)"/>
<rect x="642.47" y="106.70" width="32.91" height="14.90" fill="rgb(0,95,0)"/>
<rect x="642.47" y="120.60" width="32.91" height="7.40" fill="rgb(0,80,0)"/>
<rect x="642.47" y="127.00" width="32.91" height="6.40" fill="rgb(0,70,0)"/>
<rect x="642.47" y="132.40" width="32.91" height="7.30" fill="rgb(0,95,0)"/>
<rect x="642.47" y="138.70" width="32.91" height="9.20" fill="rgb(0,40,0)"/>
<rect x="642.47" y="146.90" width="32.91" height="14.30" fill="rgb(0,25,0)"/>
<rect x="642.47" y="160.20" width="32.91" height="8.30" fill="rgb(0,60,0)"/>
<rect x="642.47" y="167.50" width="32.91" height="22.50" fill="rgb(0,168,0)"/>
<rect x="642.47" y="189.00" width="32.91" height="11.00" fill="rgb(0,130,0)"/>
<rect x="642.47" y="199.00" width="32.91" height="19.00" fill="rgb(0,170,0)"/>
<rect x="642.47" y="217.00" width="32.91" height="11.50" fill="rgb(0,130,0)"/>
<rect x="642.47" y="227.50" width="32.91" height="5.00" fill="rgb(0,200,0)"/>
<rect x="642.47" y="231.50" width="32.91" height="7.80" fill="rgb(0,120,0)"/>
<rect x="642.47" y="238.30" width="32.91" height="10.70" fill="rgb(75,0,0)"/>
<rect x="642.47" y="248.00" width="32.91" height="8.90" fill="rgb(85,0,0)"/>
<rect x="642.47" y="255.90" width="32.91" height="19.10" fill="rgb(60,0,0)"/>
<rect x="642.47" y="274.00" width="32.91" height="8.00" fill="rgb(15,0,0)"/>
<rect x="642.47" y="281.00" width="32.91" height="8.20" fill="rgb(20,0,0)"/>
<rect x="642.47" y="288.20" width="32.91" height="7.90" fill="rgb(0,0,0)"/>
<rect x="642.47" y="295.10" width="32.91" height="7.70" fill="rgb(115,0,0)"/>
<rect x="642.47" y="301.80" width="32.91" height="4.60" fill="rgb(135,0,0)"/>
<rect x="642.47" y="305.40" width="32.91" height="8.20" fill="rgb(190,0,0)"/>
<rect x="642.47" y="312.60" width="32.91" height="5.00" fill="rgb(165,0,0)"/>
<rect x="642.47" y="316.60" width="32.91" height="4.60" fill="rgb(70,0,0)"/>
<rect x="642.47" y="320.20" width="32.91" height="11.50" fill="rgb(235,0,0)"/>
<rect x="642.47" y="330.70" width="32.91" height="7.90" fill="rgb(255,10,10)"/>
<rect x="642.47" y="337.60" width="32.91" height="4.60" fill="rgb(0,215,0)"/>
<rect x="642.47" y="341.20" width="32.91" height="3.40" fill="rgb(0,225,0)"/>
<rect x="674.39" y="89.30" width="31.91" height="46.70" fill="rgb(250,0,0)"/>
<rect x="674.39" y="135.00" width="31.91" height="19.00" fill="rgb(238,0,0)"/>
<rect x="674.39" y="153.00" width="31.91" height="14.50" fill="rgb(225,0,0)"/>
<rect x="674.39" y="166.50" width="31.91" height="51.50" fill="rgb(255,0,0)"/>
<rect x="674.39" y="217.00" width="31.91" height="8.20" fill="rgb(235,0,0)"/>
<rect x="674.39" y="224.20" width="31.91" height="4.30" fill="rgb(170,0,0)"/>
<rect x="674.39" y="227.50" width="31.91" height="5.00" fill="rgb(100,0,0)"/>
<rect x="674.39" y="231.50" width="31.91" height="7.80" fill="rgb(0,120,0)"/>
<rect x="674.39" y="238.30" width="31.91" height="18.60" fill="rgb(175,0,0)"/>
<rect x="674.39" y="255.90" width="31.91" height="19.10" fill="rgb(195,0,0)"/>
<rect x="674.39" y="274.00" width="31.91" height="22.10" fill="rgb(222,0,0)"/>
<rect x="674.39" y="295.10" width="31.91" height="11.30" fill="rgb(150,0,0)"/>
<rect x="674.39" y="305.40" width="31.91" height="8.20" fill="rgb(65,0,0)"/>
<rect x="674.39" y="312.60" width="31.91" height="8.40" fill="rgb(95,0,0)"/>
<rect x="674.39" y="320.00" width="31.91" height="8.00" fill="rgb(0,35,0)"/>
<rect x="674.39" y="327.00" width="31.91" height="4.70" fill="rgb(0,5,0)"/>
<rect x="674.39" y="330.70" width="31.91" height="4.60" fill="rgb(0,100,0)"/>
<rect x="674.39" y="334.30" width="31.91" height="4.30" fill="rgb(0,60,0)"/>
<rect x="674.39" y="337.60" width="31.91" height="4.60" fill="rgb(0,215,0)"/>
<rect x="674.39" y="341.20" width="31.91" height="3.40" fill="rgb(0,60,0)"/>
</g>
<rect x="7.7" y="23.4" width="65.8" height="28.4" fill="url(#lg)"/>
<rect x="384.9" y="23.6" width="66.9" height="28.7" fill="url(#lg)"/>
<path d="M16.70 51.80L16.70 56.00M32.80 51.80L32.80 56.00M49.50 51.80L49.50 56.00M66.00 51.80L66.00 56.00M393.90 52.30L393.90 56.90M403.50 52.30L403.50 56.90M413.30 52.30L413.30 56.90M422.80 52.30L422.80 56.90M432.40 52.30L432.40 56.90M442.20 52.30L442.20 56.90M89.34 86.80L89.34 59.20L121.03 59.20L121.03 86.80M152.72 86.80L152.72 67.50L184.41 67.50L184.41 86.80M216.09 86.80L216.09 71.40L247.78 71.40L247.78 86.80M279.47 86.80L279.47 69.90L311.16 69.90L311.16 86.80M231.94 71.40L231.94 53.30L295.31 53.30L295.31 69.90M168.56 67.50L168.56 45.20L263.62 45.20L263.62 53.30M105.19 59.20L105.19 18.90L216.09 18.90L216.09 45.20M466.96 87.00L466.96 76.30L498.87 76.30L498.87 87.00M530.78 87.00L530.78 52.60L562.69 52.60L562.69 87.00M594.61 87.00L594.61 40.40L626.52 40.40L626.52 87.00M658.43 87.00L658.43 61.50L690.34 61.50L690.34 87.00M482.91 76.30L482.91 31.10L546.74 31.10L546.74 52.60M610.56 40.40L610.56 24.90L674.39 24.90L674.39 61.50M514.83 31.10L514.83 18.90L642.48 18.90L642.48 24.90M71.00 92.34L70.50 92.34L70.50 99.01L71.00 99.01M70.50 95.67L70.10 95.67L70.10 105.68L71.00 105.68M70.10 100.68L68.80 100.68L68.80 112.36L71.00 112.36M68.80 106.52L68.40 106.52L68.40 119.03L71.00 119.03M68.40 112.78L67.80 112.78L67.80 125.71L71.00 125.71M67.80 119.24L67.40 119.24L67.40 132.38L71.00 132.38M71.00 139.05L69.30 139.05L69.30 145.73L71.00 145.73M71.00 152.40L69.60 152.40L69.60 159.07L71.00 159.07M69.30 142.39L67.00 142.39L67.00 155.74L69.60 155.74M67.40 125.81L65.60 125.81L65.60 149.06L67.00 149.06M71.00 165.75L69.50 165.75L69.50 172.42L71.00 172.42M69.50 169.08L68.50 169.08L68.50 179.09L71.00 179.09M65.60 137.44L64.50 137.44L64.50 174.09L68.50 174.09M64.50 155.76L58.60 155.76L58.60 185.77L71.00 185.77M71.00 192.44L67.50 192.44L67.50 199.12L71.00 199.12M67.50 195.78L64.70 195.78L64.70 205.79L71.00 205.79M58.60 169.40L52.50 169.40L52.50 200.40L64.70 200.40M71.00 212.46L68.10 212.46L68.10 219.14L71.00 219.14M71.00 225.81L68.10 225.81L68.10 232.48L71.00 232.48M68.10 215.80L61.90 215.80L61.90 229.15L68.10 229.15M61.90 222.20L48.70 222.20L48.70 239.16L71.00 239.16M52.50 185.50L38.40 185.50L38.40 230.70L48.70 230.70M71.00 245.83L70.20 245.83L70.20 252.51L71.00 252.51M70.20 249.17L69.80 249.17L69.80 259.18L71.00 259.18M69.80 254.17L69.40 254.17L69.40 265.85L71.00 265.85M69.40 260.01L69.00 260.01L69.00 272.53L71.00 272.53M69.00 266.27L68.50 266.27L68.50 279.20L71.00 279.20M68.50 272.73L68.50 265.70M71.00 285.87L70.20 285.87L70.20 292.55L71.00 292.55M70.20 289.21L69.70 289.21L69.70 299.22L71.00 299.22M69.70 294.22L69.20 294.22L69.20 305.89L71.00 305.89M69.20 300.06L69.20 298.80M68.50 265.70L63.60 265.70L63.60 298.80L69.20 298.80M71.00 312.57L67.50 312.57L67.50 319.24L71.00 319.24M63.60 283.30L50.60 283.30L50.60 315.80L67.50 315.80M38.40 208.10L13.40 208.10L13.40 298.80L50.60 298.80M71.00 325.92L59.30 325.92L59.30 332.59L71.00 332.59M59.30 329.50L11.30 329.50L11.30 339.26L71.00 339.26M13.40 254.40L3.10 254.40L3.10 334.10L11.30 334.10M448.60 91.00L448.60 101.00L448.00 101.00L448.00 120.00L447.00 120.00L447.00 128.00L445.80 128.00L445.80 158.00M448.90 94.00L448.90 140.00M447.40 138.00L447.40 166.00M448.60 142.00L448.60 158.00M448.50 168.00L448.50 215.00M447.60 176.00L447.60 200.00M445.80 142.80L442.30 142.80L442.30 205.00L446.30 205.00M446.30 199.60L446.30 213.80M442.30 174.30L439.50 174.30L439.50 220.40L447.00 220.40M448.60 218.70L447.00 218.70L447.00 222.20L448.60 222.20M439.50 197.10L414.50 197.10L414.50 227.90L444.20 227.90M448.60 226.20L444.20 226.20L444.20 229.30L448.60 229.30M414.50 212.40L391.90 212.40L391.90 235.20L445.10 235.20M448.60 233.50L445.10 233.50L445.10 236.80L448.60 236.80M391.90 223.90L388.40 223.90L388.40 318.90L423.70 318.90M388.40 270.90L380.60 270.90L380.60 341.50L433.80 341.50M448.60 339.50L433.80 339.50L433.80 343.30L448.60 343.30M433.60 305.20L423.70 305.20L423.70 333.00L445.60 333.00M438.80 292.10L433.60 292.10L433.60 318.60L448.60 318.60M446.50 276.70L438.80 276.70L438.80 307.00L445.60 307.00M448.60 241.00L448.60 256.00L447.50 256.00L447.50 270.00L446.50 270.00L446.50 290.00M448.30 258.00L448.30 296.00M448.60 298.00L447.20 298.00L447.20 315.00L448.60 315.00M445.60 300.00L445.60 312.00M448.60 322.00L447.00 322.00L447.00 336.00L448.60 336.00M445.60 326.00L445.60 335.00" fill="none" stroke="#4a4a4a" stroke-width="0.9"/>
<text transform="translate(0.9 8.7) scale(1.1 1)" font-family="'Liberation Serif',serif" font-weight="bold" font-size="15" fill="#000">a</text>
<text x="352.1" y="12.6" font-family="'Liberation Serif',serif" font-weight="bold" font-size="15" fill="#000">b</text>
<text x="15.8" y="66.1" text-anchor="middle" class="s">-1</text>
<text x="32.8" y="66.1" text-anchor="middle" class="s">0</text>
<text x="49.5" y="66.1" text-anchor="middle" class="s">1</text>
<text x="66.0" y="66.1" text-anchor="middle" class="s">2</text>
<text x="393.0" y="66.7" text-anchor="middle" class="s">-0.5</text>
<text x="413.3" y="66.7" text-anchor="middle" class="s">0.5</text>
<text x="432.4" y="66.7" text-anchor="middle" class="s">1.5</text>
<text transform="translate(92.24 347.00) rotate(-90)" text-anchor="end" class="l">Male.R</text>
<text transform="translate(123.93 347.00) rotate(-90)" text-anchor="end" class="l">Male.S</text>
<text transform="translate(155.62 347.00) rotate(-90)" text-anchor="end" class="l">Nymph.R</text>
<text transform="translate(187.31 347.00) rotate(-90)" text-anchor="end" class="l">Nymph.S</text>
<text transform="translate(218.99 347.00) rotate(-90)" text-anchor="end" class="l">Larva.S</text>
<text transform="translate(250.68 347.00) rotate(-90)" text-anchor="end" class="l">Larva.R</text>
<text transform="translate(282.37 347.00) rotate(-90)" text-anchor="end" class="l">Female.S</text>
<text transform="translate(314.06 347.00) rotate(-90)" text-anchor="end" class="l">Female.R</text>
<text transform="translate(470.16 348.80) rotate(-90)" text-anchor="end" class="l">Female.S</text>
<text transform="translate(502.07 348.80) rotate(-90)" text-anchor="end" class="l">Female.R</text>
<text transform="translate(533.98 348.80) rotate(-90)" text-anchor="end" class="l">Nymph.S</text>
<text transform="translate(565.89 348.80) rotate(-90)" text-anchor="end" class="l">Nymph.R</text>
<text transform="translate(597.81 348.80) rotate(-90)" text-anchor="end" class="l">Larva.S</text>
<text transform="translate(629.72 348.80) rotate(-90)" text-anchor="end" class="l">Larva.R</text>
<text transform="translate(661.63 348.80) rotate(-90)" text-anchor="end" class="l">Male.S</text>
<text transform="translate(693.54 348.80) rotate(-90)" text-anchor="end" class="l">Male.R</text>
</svg>
</body></html>
